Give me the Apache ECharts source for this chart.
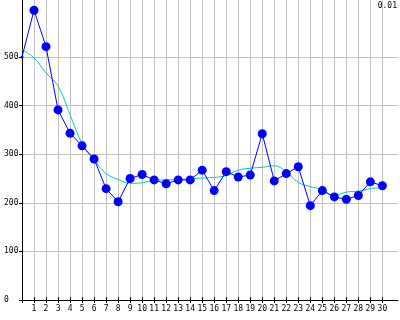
<!DOCTYPE html>
<html>
<head>
<meta charset="utf-8">
<script src="https://cdn.jsdelivr.net/npm/echarts@6/dist/echarts.min.js"></script>
<style>
  html, body { margin: 0; padding: 0; background: #fff; }
  #chart { width: 400px; height: 320px; }
</style>
</head>
<body>
<div id="chart"></div>
<script>
// sample index along x
const xPositions = [0, 1, 2, 3, 4, 5, 6, 7, 8, 9, 10, 11, 12, 13, 14, 15, 16, 17, 18, 19, 20, 21, 22, 23, 24, 25, 26, 27, 28, 29, 30];
// raw values (blue, with markers)
const rawValues = [500, 596, 521, 391, 343, 317, 290, 229, 202, 250, 258, 247, 239, 247, 247, 267, 225, 264, 253, 257, 342, 245, 260, 274, 194, 225, 212, 207, 215, 243, 235];
// smoothed trend (cyan)
const trendValues = [515, 498, 467, 440, 381, 322, 288, 260, 248, 240, 241, 246, 247, 248, 249, 251, 252, 256, 267, 271, 273, 276, 264, 242, 233, 227, 215, 222, 224, 229, 231];
const xTicks = [1, 2, 3, 4, 5, 6, 7, 8, 9, 10, 11, 12, 13, 14, 15, 16, 17, 18, 19, 20, 21, 22, 23, 24, 25, 26, 27, 28, 29, 30];
const xGridTicks = [0].concat(xTicks);
const yTicks = [0, 100, 200, 300, 400, 500];
const cornerNote = '0.01';

const FONT = 'DejaVu Sans Mono';
const chart = echarts.init(document.getElementById('chart'));

const rawData = xPositions.map((x, i) => (
  i === 0 ? { value: [x, rawValues[i]], symbolSize: 3 } : [x, rawValues[i]]
));
const trendData = xPositions.map((x, i) => [x, trendValues[i]]);

chart.setOption({
  animation: false,
  backgroundColor: '#fff',
  grid: { left: 22, right: 2, top: 0, bottom: 20 },
  graphic: [{
    type: 'text', right: 3, top: 2,
    style: { text: cornerNote, fill: '#000', font: '8px ' + FONT }
  }],
  xAxis: [{
    type: 'value', min: 0, max: 31.3,
    axisLine: { show: true, onZero: false, lineStyle: { color: '#000', width: 1 } },
    axisTick: { show: true, length: 3, customValues: xGridTicks, lineStyle: { color: '#000' } },
    axisLabel: { customValues: xTicks, color: '#000', fontFamily: FONT, fontSize: 8, margin: 5 },
    splitLine: { show: true, lineStyle: { color: '#c0c0c0', width: 1 } }
  }, {
    type: 'value', min: 0, max: 31.3, position: 'bottom', offset: 0,
    axisLine: { show: false },
    axisTick: { show: true, inside: true, length: 3, customValues: xGridTicks, lineStyle: { color: '#000' } },
    axisLabel: { show: false },
    splitLine: { show: false }
  }],
  yAxis: {
    type: 'value', min: 0, max: 617,
    axisLine: { show: true, lineStyle: { color: '#000', width: 1 } },
    axisTick: { show: true, length: 3, customValues: yTicks, lineStyle: { color: '#000' } },
    axisLabel: { customValues: yTicks, color: '#000', fontFamily: FONT, fontSize: 8, align: 'left', margin: 18 },
    splitLine: { show: true, lineStyle: { color: '#c0c0c0', width: 1 } }
  },
  series: [{
    type: 'line',
    data: trendData,
    smooth: 0.4,
    showSymbol: false,
    lineStyle: { color: '#00c8c8', width: 1 },
    z: 2
  }, {
    type: 'line',
    data: rawData,
    symbol: 'circle',
    symbolSize: 9,
    itemStyle: { color: '#0000ff' },
    lineStyle: { color: '#0000ff', width: 1 },
    z: 3
  }]
});
</script>
</body>
</html>
